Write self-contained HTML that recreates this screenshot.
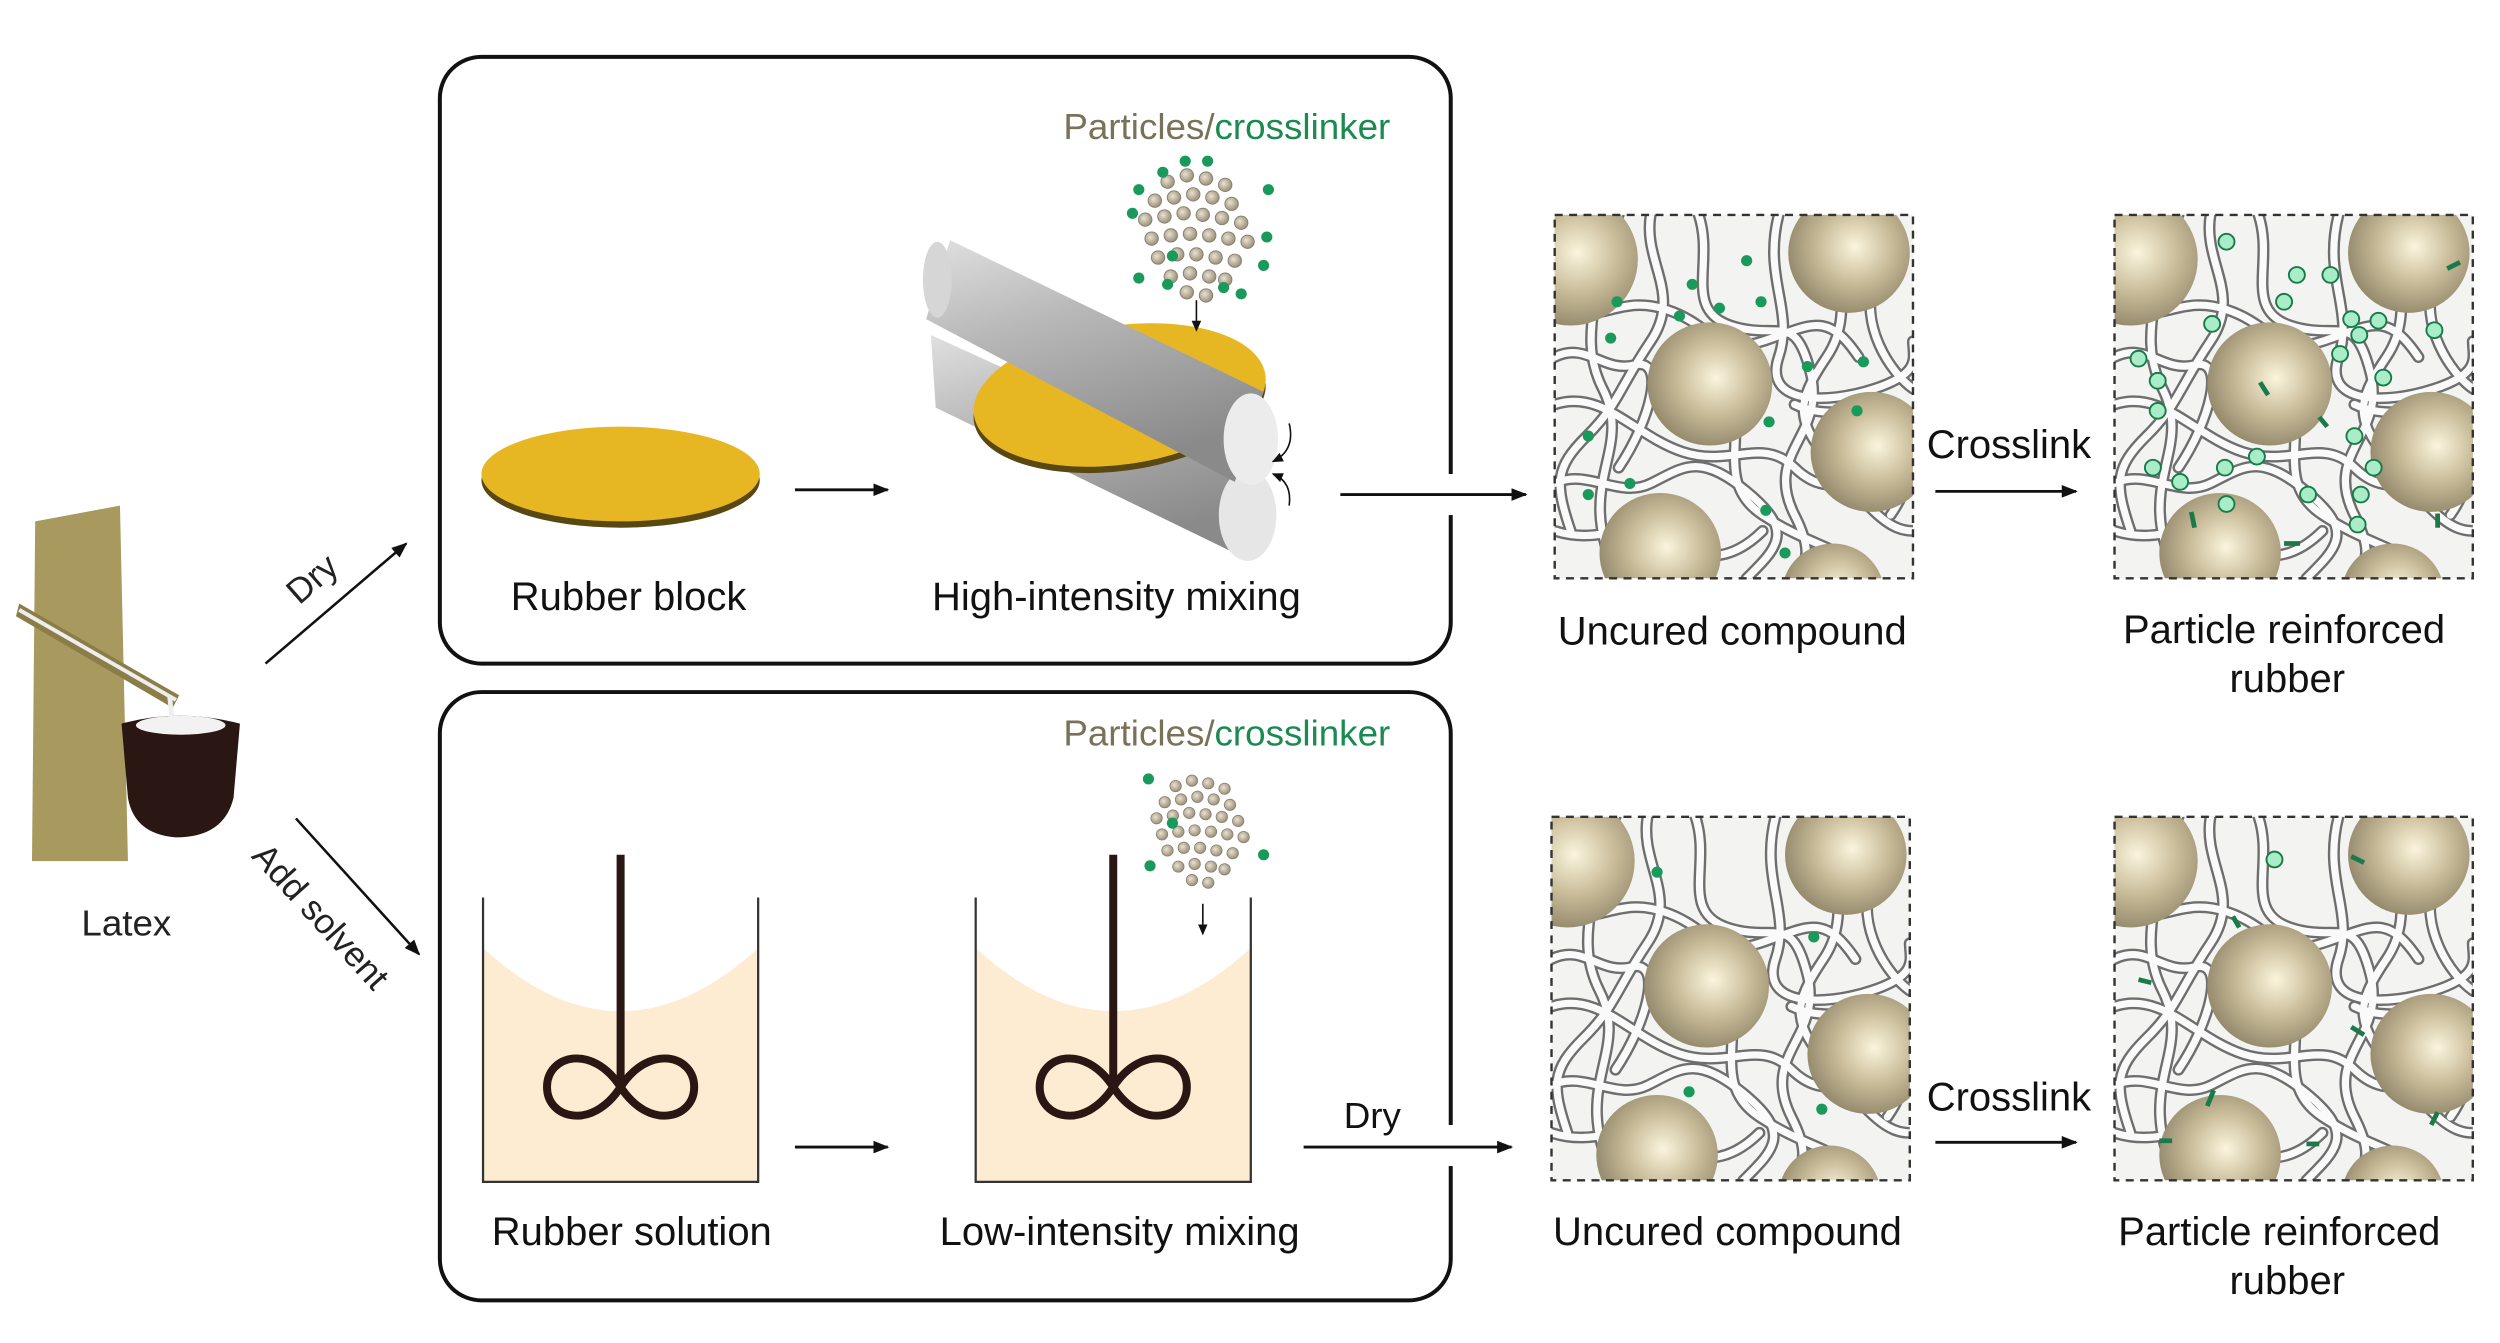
<!DOCTYPE html>
<html><head><meta charset="utf-8"><style>html,body{margin:0;padding:0;background:#fff}svg{display:block}text{font-family:"Liberation Sans",sans-serif}</style></head>
<body>
<svg width="2500" height="1343" viewBox="0 0 1563 850" preserveAspectRatio="none" xmlns="http://www.w3.org/2000/svg">
<defs>
<marker id="ah" markerWidth="10" markerHeight="8" refX="9" refY="4" orient="auto" markerUnits="userSpaceOnUse"><path d="M0,0 L10,4 L0,8 z" fill="#111"/></marker>
<marker id="ahs" markerWidth="7" markerHeight="6" refX="6" refY="3" orient="auto" markerUnits="userSpaceOnUse"><path d="M0,0 L7,3 L0,6 z" fill="#111"/></marker>
<radialGradient id="sph" cx="0.55" cy="0.45" r="0.6"><stop offset="0" stop-color="#fbf5dc"/><stop offset="0.5" stop-color="#c9bc9a"/><stop offset="1" stop-color="#8e8467"/></radialGradient>
<radialGradient id="sm" cx="0.4" cy="0.4" r="0.6"><stop offset="0" stop-color="#e8e2d2"/><stop offset="1" stop-color="#9c917a"/></radialGradient>
<linearGradient id="roll" x1="0" y1="0" x2="0.4" y2="1"><stop offset="0" stop-color="#e0e0e0"/><stop offset="0.4" stop-color="#b8b8b8"/><stop offset="1" stop-color="#8a8a8a"/></linearGradient>
<clipPath id="pc"><rect x="0" y="0" width="224" height="230"/></clipPath>
<g id="chains" fill="none">
<g stroke="#6e6e6e" stroke-width="7.5" stroke-linecap="round">
<path d="M20,0 C40,40 10,70 30,110 S10,170 40,230"/>
<path d="M60,0 C55,30 80,50 60,80 S40,120 20,140 S0,170 10,200"/>
<path d="M90,0 C100,30 80,60 110,70 S150,60 160,100 S130,150 150,190 S140,220 160,230"/>
<path d="M140,0 C130,40 150,60 140,90 S170,120 200,110 S224,90 224,80"/>
<path d="M0,60 C30,70 40,50 70,60 S100,90 130,80 S170,60 190,90"/>
<path d="M0,120 C30,110 50,140 80,150 S130,140 150,160 S190,170 224,150"/>
<path d="M0,170 C20,160 40,180 60,170 S90,150 120,175 S140,210 120,230"/>
<path d="M0,200 C30,210 50,190 70,205 S110,220 130,200"/>
<path d="M180,0 C170,30 190,60 170,90 S150,130 175,160 S210,200 224,200"/>
<path d="M110,110 C120,140 100,170 130,190 S180,210 200,230"/>
<path d="M0,90 C20,80 30,100 50,95 S60,130 40,160"/>
<path d="M200,40 C190,70 210,100 224,110"/>
<path d="M150,120 C170,130 190,120 210,130 S224,170 210,190"/>
<path d="M40,0 C30,20 50,40 35,60"/>
</g>
<g stroke="#fafafa" stroke-width="4.5" stroke-linecap="round">
<path d="M20,0 C40,40 10,70 30,110 S10,170 40,230"/>
<path d="M60,0 C55,30 80,50 60,80 S40,120 20,140 S0,170 10,200"/>
<path d="M90,0 C100,30 80,60 110,70 S150,60 160,100 S130,150 150,190 S140,220 160,230"/>
<path d="M140,0 C130,40 150,60 140,90 S170,120 200,110 S224,90 224,80"/>
<path d="M0,60 C30,70 40,50 70,60 S100,90 130,80 S170,60 190,90"/>
<path d="M0,120 C30,110 50,140 80,150 S130,140 150,160 S190,170 224,150"/>
<path d="M0,170 C20,160 40,180 60,170 S90,150 120,175 S140,210 120,230"/>
<path d="M0,200 C30,210 50,190 70,205 S110,220 130,200"/>
<path d="M180,0 C170,30 190,60 170,90 S150,130 175,160 S210,200 224,200"/>
<path d="M110,110 C120,140 100,170 130,190 S180,210 200,230"/>
<path d="M0,90 C20,80 30,100 50,95 S60,130 40,160"/>
<path d="M200,40 C190,70 210,100 224,110"/>
<path d="M150,120 C170,130 190,120 210,130 S224,170 210,190"/>
<path d="M40,0 C30,20 50,40 35,60"/>
</g>
</g>
<g id="spheres">
<circle cx="10" cy="28" r="42" fill="url(#sph)"/>
<circle cx="184" cy="24" r="38" fill="url(#sph)"/>
<circle cx="97" cy="107" r="39" fill="url(#sph)"/>
<circle cx="198" cy="150" r="38" fill="url(#sph)"/>
<circle cx="66" cy="214" r="38" fill="url(#sph)"/>
<circle cx="174" cy="240" r="32" fill="url(#sph)"/>
</g>
<g id="panel">
<rect x="0" y="0" width="224" height="230" fill="#f3f3f1"/>
<g clip-path="url(#pc)"><use href="#chains"/><use href="#spheres"/></g>
<rect x="0" y="0" width="224" height="230" fill="none" stroke="#333" stroke-width="1.5" stroke-dasharray="5,4"/>
</g>
<g id="cl">
<g fill="url(#sm)" stroke="#8a8070" stroke-width="0.6">
<circle cx="-20" cy="-30" r="4.2"/><circle cx="-8" cy="-34" r="4.2"/><circle cx="4" cy="-32" r="4.2"/><circle cx="16" cy="-28" r="4.2"/>
<circle cx="-28" cy="-18" r="4.2"/><circle cx="-16" cy="-20" r="4.2"/><circle cx="-4" cy="-22" r="4.2"/><circle cx="8" cy="-20" r="4.2"/><circle cx="20" cy="-16" r="4.2"/>
<circle cx="-34" cy="-6" r="4.2"/><circle cx="-22" cy="-8" r="4.2"/><circle cx="-10" cy="-10" r="4.2"/><circle cx="2" cy="-9" r="4.2"/><circle cx="14" cy="-7" r="4.2"/><circle cx="26" cy="-4" r="4.2"/>
<circle cx="-30" cy="6" r="4.2"/><circle cx="-18" cy="4" r="4.2"/><circle cx="-6" cy="3" r="4.2"/><circle cx="6" cy="4" r="4.2"/><circle cx="18" cy="6" r="4.2"/><circle cx="30" cy="8" r="4.2"/>
<circle cx="-26" cy="18" r="4.2"/><circle cx="-14" cy="16" r="4.2"/><circle cx="-2" cy="16" r="4.2"/><circle cx="10" cy="18" r="4.2"/><circle cx="22" cy="20" r="4.2"/>
<circle cx="-18" cy="30" r="4.2"/><circle cx="-6" cy="28" r="4.2"/><circle cx="6" cy="30" r="4.2"/><circle cx="16" cy="32" r="4.2"/>
<circle cx="-8" cy="40" r="4.2"/><circle cx="4" cy="42" r="4.2"/>
</g>
</g>
</defs>

<rect x="275" y="36" width="632" height="384" rx="26" fill="none" stroke="#111" stroke-width="2.5"/>
<rect x="275" y="438" width="632" height="385" rx="26" fill="none" stroke="#111" stroke-width="2.5"/>
<rect x="900" y="300" width="16" height="26" fill="#fff"/>
<rect x="900" y="712" width="16" height="26" fill="#fff"/>

<path d="M22,330 L75,320 L80,545 L20,545 Z" fill="#a89a5e"/>
<path d="M12,382 L112,440 L108,448 L10,390 Z" fill="#8a7d48"/>
<path d="M12,386 L110,443" stroke="#eee" stroke-width="2.5"/>
<path d="M106,440 L108,460" stroke="#eee" stroke-width="3"/>
<path d="M76,458 Q112,448 150,458 L146,505 Q140,530 110,530 Q84,528 80,505 Z" fill="#2a1612"/>
<ellipse cx="113" cy="459" rx="28" ry="6" fill="#f2f2f2"/>
<text x="79" y="592" font-size="23" text-anchor="middle" fill="#222">Latex</text>

<line x1="166" y1="420" x2="254" y2="344" stroke="#111" stroke-width="1.6" marker-end="url(#ah)"/>
<text transform="translate(200,372) rotate(-41)" font-size="22" text-anchor="middle" fill="#222">Dry</text>
<line x1="185" y1="518" x2="262" y2="604" stroke="#111" stroke-width="1.6" marker-end="url(#ah)"/>
<text transform="translate(195,585) rotate(48)" font-size="22" text-anchor="middle" fill="#222">Add solvent</text>

<ellipse cx="388" cy="304" rx="87" ry="30" fill="#5a4812"/>
<ellipse cx="388" cy="300" rx="87" ry="30" fill="#e7b723"/>
<line x1="497" y1="310" x2="555" y2="310" stroke="#111" stroke-width="1.8" marker-end="url(#ah)"/>

<path d="M582,212 L768,298 L782,355 L585,258 Z" fill="url(#roll)"/>
<ellipse cx="780" cy="326" rx="18" ry="29" fill="#e6e6e6"/>
<ellipse cx="700" cy="254" rx="92" ry="44" transform="rotate(-8 700 254)" fill="#5a4812"/>
<ellipse cx="700" cy="250" rx="92" ry="44" transform="rotate(-8 700 250)" fill="#e7b723"/>
<path d="M594,152 L790,248 L772,305 L579,202 Z" fill="url(#roll)"/>
<ellipse cx="586" cy="177" rx="9" ry="24" fill="#d6d6d6"/>
<ellipse cx="782" cy="278" rx="17" ry="29" fill="#ececec"/>
<path d="M806,268 Q810,285 796,292" fill="none" stroke="#111" stroke-width="1" marker-end="url(#ahs)"/>
<path d="M806,320 Q808,305 796,300" fill="none" stroke="#111" stroke-width="1" marker-end="url(#ahs)"/>

<text x="767" y="88" font-size="23" text-anchor="middle"><tspan fill="#7a7258">Particles/</tspan><tspan fill="#1a8a50">crosslinker</tspan></text>
<use href="#cl" x="750" y="145"/>
<g fill="#1a9a5a"><circle cx="741" cy="102" r="3.5"/><circle cx="727" cy="109" r="3.5"/><circle cx="712" cy="120" r="3.5"/><circle cx="793" cy="120" r="3.5"/><circle cx="708" cy="135" r="3.5"/><circle cx="792" cy="150" r="3.5"/><circle cx="733" cy="162" r="3.5"/><circle cx="790" cy="168" r="3.5"/><circle cx="712" cy="176" r="3.5"/><circle cx="730" cy="180" r="3.5"/><circle cx="765" cy="182" r="3.5"/><circle cx="776" cy="186" r="3.5"/><circle cx="755" cy="102" r="3.5"/></g>
<line x1="748" y1="190" x2="748" y2="209" stroke="#111" stroke-width="1" marker-end="url(#ahs)"/>

<text x="393" y="386" font-size="25" text-anchor="middle" fill="#111">Rubber block</text>
<text x="698" y="386" font-size="25" text-anchor="middle" fill="#111">High-intensity mixing</text>
<line x1="838" y1="313" x2="954" y2="313" stroke="#111" stroke-width="1.8" marker-end="url(#ah)"/>

<use href="#panel" x="972" y="136"/>
<g fill="#1a9a5a"><circle cx="1092" cy="165" r="3.5"/><circle cx="1075" cy="195" r="3.5"/><circle cx="1058" cy="180" r="3.5"/><circle cx="1101" cy="191" r="3.5"/><circle cx="1011" cy="191" r="3.5"/><circle cx="1050" cy="200" r="3.5"/><circle cx="1007" cy="214" r="3.5"/><circle cx="1130" cy="232" r="3.5"/><circle cx="1165" cy="229" r="3.5"/><circle cx="1161" cy="260" r="3.5"/><circle cx="993" cy="276" r="3.5"/><circle cx="1106" cy="267" r="3.5"/><circle cx="993" cy="313" r="3.5"/><circle cx="1019" cy="306" r="3.5"/><circle cx="1104" cy="323" r="3.5"/><circle cx="1116" cy="350" r="3.5"/></g>
<text x="1256" y="290" font-size="25" text-anchor="middle" fill="#111">Crosslink</text>
<line x1="1210" y1="311" x2="1298" y2="311" stroke="#111" stroke-width="1.8" marker-end="url(#ah)"/>
<use href="#panel" x="1322" y="136"/>
<g fill="#a8ecc8" stroke="#1a7a4a" stroke-width="1.2">
<circle cx="1392" cy="153" r="5"/><circle cx="1436" cy="174" r="5"/><circle cx="1457" cy="174" r="5"/><circle cx="1428" cy="191" r="5"/><circle cx="1383" cy="205" r="5"/><circle cx="1470" cy="202" r="5"/><circle cx="1487" cy="203" r="5"/><circle cx="1475" cy="212" r="5"/><circle cx="1522" cy="209" r="5"/><circle cx="1337" cy="227" r="5"/><circle cx="1349" cy="241" r="5"/><circle cx="1349" cy="260" r="5"/><circle cx="1463" cy="224" r="5"/><circle cx="1490" cy="239" r="5"/><circle cx="1346" cy="296" r="5"/><circle cx="1363" cy="305" r="5"/><circle cx="1391" cy="296" r="5"/><circle cx="1411" cy="289" r="5"/><circle cx="1472" cy="276" r="5"/><circle cx="1443" cy="313" r="5"/><circle cx="1476" cy="313" r="5"/><circle cx="1484" cy="296" r="5"/><circle cx="1474" cy="332" r="5"/><circle cx="1392" cy="319" r="5"/></g>
<g stroke="#1a7a4a" stroke-width="3"><line x1="1413" y1="242" x2="1418" y2="250"/><line x1="1370" y1="324" x2="1372" y2="334"/><line x1="1428" y1="344" x2="1438" y2="344"/><line x1="1524" y1="325" x2="1524" y2="334"/><line x1="1530" y1="170" x2="1538" y2="166"/><line x1="1450" y1="264" x2="1455" y2="270"/></g>
<text x="1428" y="407" font-size="25" text-anchor="middle" fill="#111">Particle reinforced</text>
<text x="1430" y="438" font-size="25" text-anchor="middle" fill="#111">rubber</text>
<text x="1083" y="408" font-size="25" text-anchor="middle" fill="#111">Uncured compound</text>

<g>
<path d="M302,600 Q388,680 474,600 L474,748 L302,748 Z" fill="#fdebd2"/>
<path d="M302,568 L302,748 L474,748 L474,568" fill="none" stroke="#333" stroke-width="1.4"/>
<line x1="388" y1="541" x2="388" y2="685" stroke="#2a1612" stroke-width="5"/>
<path d="M388,688 C370,660 342,668 342,688 C342,708 370,716 388,688 C406,660 434,668 434,688 C434,708 406,716 388,688 Z" fill="none" stroke="#2a1612" stroke-width="5"/>
</g>
<g>
<path d="M610,600 Q696,680 782,600 L782,748 L610,748 Z" fill="#fdebd2"/>
<path d="M610,568 L610,748 L782,748 L782,568" fill="none" stroke="#333" stroke-width="1.4"/>
<line x1="696" y1="541" x2="696" y2="685" stroke="#2a1612" stroke-width="5"/>
<path d="M696,688 C678,660 650,668 650,688 C650,708 678,716 696,688 C714,660 742,668 742,688 C742,708 714,716 696,688 Z" fill="none" stroke="#2a1612" stroke-width="5"/>
</g>
<line x1="497" y1="726" x2="555" y2="726" stroke="#111" stroke-width="1.8" marker-end="url(#ah)"/>
<text x="767" y="472" font-size="23" text-anchor="middle"><tspan fill="#7a7258">Particles/</tspan><tspan fill="#1a8a50">crosslinker</tspan></text>
<use href="#cl" x="752" y="523" transform="translate(752,523) scale(0.85) translate(-752,-523)"/>
<g fill="#1a9a5a"><circle cx="718" cy="493" r="3.5"/><circle cx="733" cy="521" r="3.5"/><circle cx="719" cy="548" r="3.5"/><circle cx="790" cy="541" r="3.5"/></g>
<line x1="752" y1="572" x2="752" y2="591" stroke="#111" stroke-width="1" marker-end="url(#ahs)"/>
<text x="395" y="788" font-size="25" text-anchor="middle" fill="#111">Rubber solution</text>
<text x="700" y="788" font-size="25" text-anchor="middle" fill="#111">Low-intensity mixing</text>
<line x1="815" y1="726" x2="945" y2="726" stroke="#111" stroke-width="1.8" marker-end="url(#ah)"/>
<text x="858" y="714" font-size="23" text-anchor="middle" fill="#111">Dry</text>

<use href="#panel" x="970" y="517"/>
<g fill="#1a9a5a"><circle cx="1036" cy="552" r="3.5"/><circle cx="1134" cy="593" r="3.5"/><circle cx="1056" cy="691" r="3.5"/><circle cx="1139" cy="702" r="3.5"/></g>
<text x="1256" y="703" font-size="25" text-anchor="middle" fill="#111">Crosslink</text>
<line x1="1210" y1="723" x2="1298" y2="723" stroke="#111" stroke-width="1.8" marker-end="url(#ah)"/>
<use href="#panel" x="1322" y="517"/>
<g fill="#a8ecc8" stroke="#1a7a4a" stroke-width="1.2"><circle cx="1422" cy="544" r="5"/></g>
<g stroke="#1a7a4a" stroke-width="3"><line x1="1470" y1="542" x2="1478" y2="546"/><line x1="1396" y1="580" x2="1400" y2="587"/><line x1="1337" y1="620" x2="1345" y2="622"/><line x1="1470" y1="650" x2="1478" y2="655"/><line x1="1380" y1="700" x2="1384" y2="690"/><line x1="1350" y1="722" x2="1358" y2="722"/><line x1="1520" y1="712" x2="1524" y2="704"/><line x1="1442" y1="724" x2="1450" y2="724"/></g>
<text x="1080" y="788" font-size="25" text-anchor="middle" fill="#111">Uncured compound</text>
<text x="1425" y="788" font-size="25" text-anchor="middle" fill="#111">Particle reinforced</text>
<text x="1430" y="819" font-size="25" text-anchor="middle" fill="#111">rubber</text>
</svg>
</body></html>
